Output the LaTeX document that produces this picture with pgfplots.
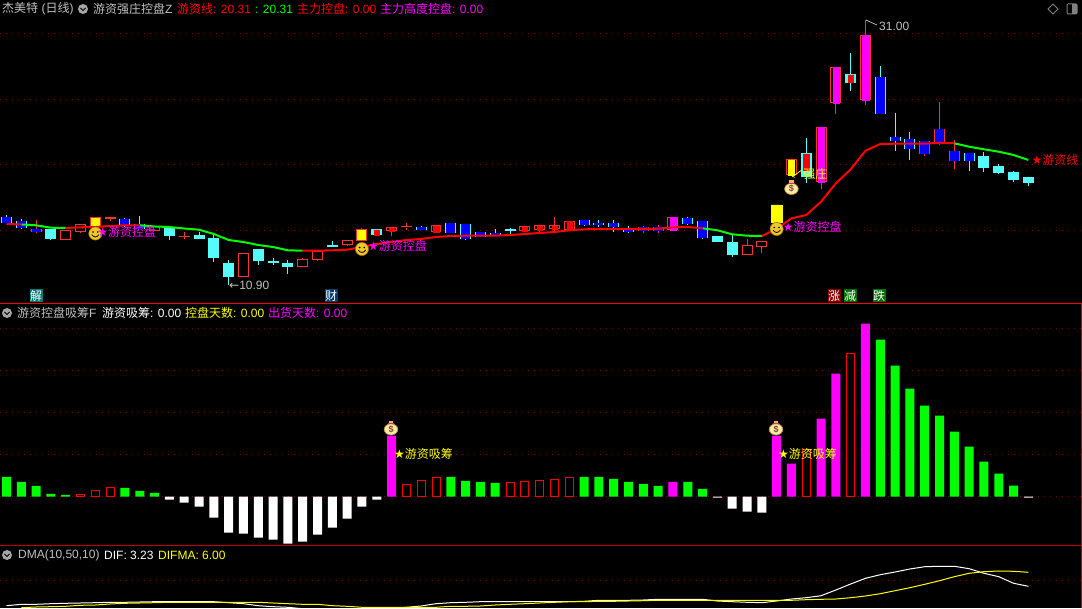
\documentclass[border=0pt]{standalone}
\usepackage{fontspec}
\setmainfont{Liberation Sans}
\newfontfamily\cjk{Noto Sans CJK SC}
\newfontfamily\sym{DejaVu Sans}
\usepackage{pgfplots}
\pgfplotsset{compat=1.18}
\usepgfplotslibrary{statistics}

\definecolor{magenta}{RGB}{255,0,255}
\definecolor{yellow}{RGB}{255,255,0}
\definecolor{tdxred}{HTML}{FF3232}
\definecolor{tdxcyan}{HTML}{54FCFC}
\definecolor{tdxgreen}{HTML}{00FF00}
\definecolor{tdxgrid}{HTML}{800000}
\definecolor{tdxgrey}{HTML}{C0C0C0}
\definecolor{sepred}{HTML}{C00000}
\definecolor{smilefill}{HTML}{F0C828}
\definecolor{smileedge}{HTML}{966E0A}
\definecolor{bagfill}{HTML}{FAEBAA}
\definecolor{bagedge}{HTML}{BE8C3C}
\definecolor{bagneck}{HTML}{EBBE50}
\definecolor{bagtie}{HTML}{DC2878}
\definecolor{bagtext}{HTML}{824628}
\definecolor{tagteal}{HTML}{007878}
\definecolor{tagblue}{HTML}{003C6E}
\definecolor{tagred}{HTML}{820000}
\definecolor{taggreen}{HTML}{006E00}

% panel 1 and 3: y is the pixel row; x is the bar number
\pgfplotsset{
  panel/.style={
    scale only axis, width=1082pt,
    xmin=-0.4389, xmax=72.62,
    xtick=\empty, yticklabels={}, major tick length=0pt,
    ymajorgrids, axis line style={draw=none},
    grid style={tdxgrid, line width=0.8pt, dash pattern=on 1pt off 5pt},
    boxplot/draw direction=y,
    clip=true,
  },
  hist/.style={ybar, bar width=9pt, bar shift=0pt, draw=none, forget plot},
}
\tikzset{note/.style={inner sep=0pt, font=\fontsize{12}{12}\selectfont\cjk}}

% one candle: edge, fill, bar, high, top, bottom, low
\newcommand\cndl[7]{\addplot[forget plot, draw=#1, fill=#2, line width=1pt,
  boxplot prepared={draw position=#3, lower whisker=#4, lower quartile=#5,
    median=#5, upper quartile=#6, upper whisker=#7, box extend=0.675, whisker extend=0}]
  coordinates {};}
% colour painted inside a candle body: colour, extend, bar, top, bottom
\newcommand\cbody[5]{\addplot[forget plot, draw=#1, fill=#1, line width=0.2pt,
  boxplot prepared={draw position=#3, lower whisker=#4, lower quartile=#4,
    median=#4, upper quartile=#5, upper whisker=#5, box extend=#2, whisker extend=0}]
  coordinates {};}
% same, stroked too, so that it hides the top and bottom edge of the candle
\newcommand\cblue[3]{\addplot[forget plot, draw=blue, fill=blue, line width=1pt,
  boxplot prepared={draw position=#1, lower whisker=#2, lower quartile=#2,
    median=#2, upper quartile=#3, upper whisker=#3, box extend=0.54, whisker extend=0}]
  coordinates {};}
\newcommand\hollow[5]{\cndl{tdxred}{black}{#1}{#2}{#3}{#4}{#5}}
\newcommand\fallc[5]{\cndl{tdxcyan}{tdxcyan}{#1}{#2}{#3}{#4}{#5}}
\newcommand\blueC[5]{\cndl{tdxcyan}{blue}{#1}{#2}{#3}{#4}{#5}\cblue{#1}{#3}{#4}}
\newcommand\blueR[5]{\cndl{tdxred}{blue}{#1}{#2}{#3}{#4}{#5}\cblue{#1}{#3}{#4}}
\newcommand\magc[5]{\cndl{tdxred}{black}{#1}{#2}{#3}{#4}{#5}\cbody{magenta}{0.42}{#1}{#3}{#4}}
\newcommand\redin[5]{\cndl{tdxred}{black}{#1}{#2}{#3}{#4}{#5}\cbody{red}{0.36}{#1}{#3}{#4}}

\newcommand\lab[4]{\node[anchor=west, inner sep=0pt, text=#1,
  font=\fontsize{12}{12}\selectfont] at (#2pt,{(608-#3)*1pt}) {#4};}
\newcommand\flag[4]{\node[fill=#1, text=white, minimum size=13pt, inner sep=0pt,
  font=\fontsize{12}{12}\selectfont\cjk] at (#2pt,{(608-#3)*1pt}) {#4};}
\newcommand\chev[2]{\fill[gray!70] (#1pt,{(608-#2)*1pt}) circle (5pt);
  \draw[black, line width=1pt] ({(#1-2.5)*1pt},{(608-#2+1)*1pt}) -- (#1pt,{(608-#2-1.5)*1pt}) -- ({(#1+2.5)*1pt},{(608-#2+1)*1pt});}

\newsavebox\smilebox
\sbox\smilebox{\tikz{
  \filldraw[fill=smilefill, draw=smileedge, line width=0.6pt] (0,0) circle (6.6pt);
  \fill[black] (-2.3pt,1.5pt) circle (0.9pt) (2.3pt,1.5pt) circle (0.9pt);
  \draw[black, line width=0.8pt] (-3.6pt,-1.2pt) .. controls (-1.5pt,-4.2pt) and (1.5pt,-4.2pt) .. (3.6pt,-1.2pt);
}}
\newsavebox\bagbox
\sbox\bagbox{\tikz{
  \filldraw[fill=bagfill, draw=bagedge, line width=0.7pt] (0,-1.4pt) ellipse (6.8pt and 5.6pt);
  \fill[bagneck] (-2.4pt,3.6pt) rectangle (2.4pt,7.4pt);
  \draw[bagtie, line width=0.9pt] (-2.8pt,4.3pt) -- (2.8pt,4.3pt);
  \node[inner sep=0pt, text=bagtext, font=\fontsize{9}{9}\selectfont\bfseries] at (0,-1.4pt) {\$};
}}

\begin{document}
\begin{tikzpicture}[x=1pt,y=1pt]
\useasboundingbox (0,0) rectangle (1082pt,608pt);
\fill[black] (0,0) rectangle (1082pt,608pt);

%%% price panel
\begin{axis}[panel, at={(0pt,304pt)}, height=304pt, ymin=0, ymax=304, y dir=reverse,
  ytick={33.3,99.3,164.3,230.3}, clip=false]
\blueC{0}{215}{217.3}{222.3}{223}
\blueC{1}{219}{221.3}{227.7}{228}
\blueR{2}{220}{230}{231.3}{232.7}
\fallc{3}{229}{230}{238.7}{239}
\hollow{4}{230.3}{230.3}{239.3}{239.3}
\hollow{5}{224.3}{224.3}{231.7}{232.7}
\cndl{tdxred}{yellow}{6}{218}{218}{226.7}{226.7}
\cndl{tdxred}{red}{7}{217}{217.3}{219}{221}
\blueC{8}{218}{219.3}{225}{226.7}
\blueC{9}{215.7}{225}{228.5}{229}
\hollow{10}{226.7}{226.7}{230.7}{230.7}
\fallc{11}{227}{228.3}{236}{240}
\hollow{12}{232.3}{236.3}{237}{238.7}
\fallc{13}{231.7}{236}{239}{239}
\fallc{14}{235.3}{239}{257.7}{261.7}
\fallc{15}{260}{263.3}{276.7}{285}
\hollow{16}{253.3}{253.3}{276.7}{276.7}
\fallc{17}{250}{250}{260.7}{265}
\fallc{18}{257.7}{262}{263}{265}
\fallc{19}{260}{263.3}{267}{274}
\hollow{20}{258}{259.3}{266.7}{266.7}
\hollow{21}{251.7}{251.7}{259.7}{261}
\fallc{22}{241}{246}{247}{247}
\hollow{23}{240.3}{240.3}{245}{246}
\cndl{tdxred}{yellow}{24}{228}{230}{240.7}{240.7}
\fallc{25}{230}{230}{234.7}{236}\cbody{red}{0.36}{25}{230}{234.7}
\redin{26}{227}{228}{231}{236}
\hollow{27}{223}{226.7}{227}{230}
\blueC{28}{226}{227.7}{229.3}{230}
\redin{29}{226}{226}{231.7}{231.7}
\blueC{30}{224}{224}{232.7}{232.7}
\blueC{31}{225}{225}{238.7}{240}
\blueC{32}{232}{233}{237}{237}
\blueC{33}{229}{234}{235.3}{235.3}
\fallc{34}{228}{230}{230.6}{234}
\redin{35}{227}{227}{231}{232}
\redin{36}{226}{226}{230}{232.3}
\redin{37}{217.3}{226}{229}{230.7}
\redin{38}{221.3}{221.3}{229.3}{229.3}
\blueC{39}{220}{221}{225}{226}
\blueC{40}{220}{224}{225}{227.3}
\blueC{41}{220}{223.7}{227}{232}
\blueC{42}{226}{229}{231.3}{232.7}
\blueR{43}{226}{228}{231}{232.7}
\blueR{44}{225}{228}{231}{233.3}
\magc{45}{217.3}{217.3}{230}{230}
\blueC{46}{217}{219}{223.7}{225}
\blueC{47}{221}{222}{237.3}{239}
\fallc{48}{236}{237}{241.7}{241.7}
\fallc{49}{234.3}{243}{255}{257}
\hollow{50}{239}{245.3}{254.7}{254.7}
\hollow{51}{242}{242}{246.7}{252.7}
\cbody{yellow}{0.72}{52}{205}{221.7}
\hollow{53}{160}{160}{174.7}{174.7}\cbody{yellow}{0.42}{53}{160}{174.7}
\fallc{54}{138.3}{154}{177}{182.7}\cbody{red}{0.36}{54}{154}{170}
\magc{55}{127.3}{127.3}{181.7}{188.7}
\magc{56}{67.3}{67.3}{102.7}{113.7}
\fallc{57}{53.3}{75}{82.3}{90.7}\cbody{red}{0.36}{57}{75}{82.3}
\magc{58}{20}{35.3}{99.7}{105}
\blueC{59}{66}{78}{113.7}{113.7}
\blueC{60}{113.3}{138}{141}{150.7}
\blueC{61}{132}{139.3}{149}{160}
\blueR{62}{142}{142}{153.7}{156}
\blueR{63}{102}{130}{143.7}{145}
\blueR{64}{140}{152}{161}{169}
\blueC{65}{154}{154}{161}{171}
\fallc{66}{152.3}{157}{168}{172}
\fallc{67}{164}{167}{173}{174}
\fallc{68}{171}{173}{180}{182}
\fallc{69}{178}{178}{183}{186}

% hot-money line, red while rising and green while falling
\addplot[tdxgreen, line width=2pt, forget plot] coordinates {(1,224.5)(2,225.3)(3,227.7)(4,228)};
\addplot[tdxgreen, line width=2pt, forget plot] coordinates {(9,225.3)(10,226.5)(11,227)(12,228.5)(13,229.7)(14,234)(15,240)(16,242)(17,245)(18,247)(19,250.3)(20,250.7)};
\addplot[tdxgreen, line width=2pt, forget plot] coordinates {(47,228.3)(48,230.3)(49,234.3)(50,235.7)(51,236)};
\addplot[tdxgreen, line width=2pt, forget plot] coordinates {(64,143.3)(65,146.7)(66,149.3)(67,151.7)(68,155)(69,160)};
\addplot[red, line width=2pt, forget plot] coordinates {(0,224)(1,224.5)};
\addplot[red, line width=2pt, forget plot] coordinates {(4,228)(5,227.3)(6,227)(7,226)(8,225.3)(9,225.3)};
\addplot[red, line width=2pt, forget plot] coordinates {(20,250.7)(21,250.7)(22,250.3)(23,249.7)(24,247)(25,244)(26,242)(27,240)(28,239)(29,237)(30,236)(31,235.7)(32,235.7)(33,235.7)(34,235)(35,234)(36,233)(37,232)(38,230.3)(39,229.3)(40,229)(41,229)(42,229)(43,229)(44,228.7)(45,227.3)(46,227)(47,228.3)};
\addplot[red, line width=2pt, forget plot] coordinates {(51,236)(52,229)(53,218.3)(54,215)(55,201.7)(56,183.3)(57,169.3)(58,150.7)(59,144)(60,143.7)(61,143.7)(62,143.7)(63,142.7)(64,143.3)};

\node[inner sep=0pt] at (axis cs:6,233.5) {\usebox\smilebox};
\node[inner sep=0pt] at (axis cs:24,249) {\usebox\smilebox};
\node[inner sep=0pt] at (axis cs:52,229) {\usebox\smilebox};
\node[inner sep=0pt] at (axis cs:53,187.5) {\usebox\bagbox};

\node[note, text=magenta, anchor=west] at (axis cs:6.13,232) {{\sym ★}游资控盘};
\node[note, text=magenta, anchor=west] at (axis cs:24.4,246) {{\sym ★}游资控盘};
\node[note, text=magenta, anchor=west] at (axis cs:52.4,226.5) {{\sym ★}游资控盘};
\node[note, text=red, anchor=west] at (axis cs:69.2,160) {{\sym ★}游资线};
\node[note, text=yellow, anchor=west] at (axis cs:53.8,174) {强庄};
\draw[yellow, line width=0.7pt, ->] (axis cs:53.7,170) -- (axis cs:53.05,177);
\end{axis}

%%% accumulation panel: bar heights in pixels above the zero line
\begin{axis}[panel, at={(0pt,62pt)}, height=242pt, ymin=-49.3, ymax=192.7,
  ytick={0,42,84,126,168}]
\addplot[hist, fill=tdxgreen] coordinates {(0,19.7)(1,14.7)(2,10.7)(3,2.7)(4,1.7)(8,8.7)(9,5.7)(10,3.7)
  (30,19.7)(31,15.7)(32,14.7)(33,13.7)(39,19.7)(40,19.7)(41,17.7)(42,14.7)(43,12.7)(44,10.7)(46,14.7)(47,7.7)
  (59,157)(60,131)(61,108)(62,91)(63,81)(64,65)(65,50)(66,35)(67,23)(68,11)};
\addplot[hist, fill=white] coordinates {(11,-3)(12,-6)(13,-10)(14,-21)(15,-36)(16,-37)(17,-41)(18,-43)(19,-47)(20,-45)
  (21,-38)(22,-31)(23,-22)(24,-10)(25,-3)(48,-1)(49,-12)(50,-15)(51,-16)(69,-1)};
\addplot[hist, fill=magenta] coordinates {(26,61)(45,14.7)(52,61)(53,33)(55,78)(56,123)(58,173)};
\addplot[ybar, bar width=8pt, bar shift=0pt, draw=red, fill=black, line width=1pt, forget plot]
  coordinates {(5,2)(6,6)(7,9.4)(27,12)(28,16)(29,19)(34,14)(35,15)(36,16.2)(37,17.2)(38,19)(54,47)(57,143)};
\end{axis}

%%% DMA panel
\begin{axis}[panel, at={(0pt,0pt)}, height=62pt, ymin=546, ymax=608, y dir=reverse, ytick={580.3}]
\addplot[white, line width=1pt, forget plot] coordinates {(0,605.7)(1,604.3)(2,604.3)(3,603.7)(4,603.3)(5,603)(6,602.7)(7,602.3)(8,602.3)(9,602)(10,601.7)(11,601.7)(12,601.7)(13,601.7)(14,601.7)(15,602.7)(16,603.7)(17,605.7)(18,606.7)(19,607.3)(20,608.7)(21,609.3)(22,609)(23,609.3)(24,609.3)(25,609)(26,608.3)(27,607.3)(28,606)(29,603.7)(30,602.7)(31,602.3)(32,601.7)(33,601.7)(34,601.7)(35,601.7)(36,601.7)(37,601.7)(38,601.7)(39,601.3)(40,600.3)(41,600.3)(42,600.3)(43,600)(44,599.3)(45,599.3)(46,599.3)(47,599.3)(48,601)(49,601.7)(50,602.3)(51,602.7)(52,601)(53,599)(54,597.7)(55,595.7)(56,590)(57,584)(58,578.3)(59,574.7)(60,572)(61,569)(62,566.7)(63,566.3)(64,566.3)(65,568.7)(66,573.3)(67,576.7)(68,583.3)(69,586.3)};
\addplot[yellow, line width=1pt, forget plot] coordinates {(1,607.7)(2,607)(3,606.7)(4,606.3)(5,605.3)(6,605)(7,604)(8,603.3)(9,603)(10,602.7)(11,602.3)(12,602.3)(13,602.3)(14,602.3)(15,602.3)(16,602.3)(17,602.3)(18,603)(19,603.7)(20,604.3)(21,604.3)(22,605.7)(23,606.3)(24,607.3)(25,607.3)(26,607.3)(27,607.3)(28,607.3)(29,607.3)(30,606.3)(31,606.3)(32,606)(33,605)(34,604.3)(35,603.7)(36,603)(37,602.3)(38,601.7)(39,601.7)(40,601.3)(41,601.3)(42,601)(43,600.7)(44,600.3)(45,600.3)(46,600.3)(47,600.3)(48,600.3)(49,600.3)(50,600.3)(51,600.3)(52,600.3)(53,600.3)(54,599.7)(55,599.3)(56,599)(57,597.7)(58,596)(59,593.7)(60,590.7)(61,587.7)(62,584.3)(63,580.7)(64,576.7)(65,573.3)(66,571.7)(67,571)(68,571.3)(69,572.3)};
\end{axis}

% panel rules
\draw[red, line width=1pt] (0,304pt) -- (1082pt,304pt);
\draw[sepred, line width=1pt] (0,62pt) -- (1082pt,62pt);
\draw[sepred, line width=1pt] (1081.5pt,0) -- (1081.5pt,304pt);

% money bags and labels of the lower panel (pixel places)
\node[inner sep=0pt] at (391pt,180pt) {\usebox\bagbox};
\node[inner sep=0pt] at (776pt,180pt) {\usebox\bagbox};
\lab{yellow}{394}{454}{{\sym ★}{\cjk 游资吸筹}}
\lab{yellow}{778}{454}{{\sym ★}{\cjk 游资吸筹}}

% extreme prices
\lab{tdxgrey}{229}{285}{{\sym ←}10.90}
\lab{tdxgrey}{879}{26}{31.00}
\draw[tdxgrey, line width=0.7pt] (866pt,{(608-20)*1pt}) -- (868pt,{(608-21)*1pt}) -- (877pt,{(608-25)*1pt});

% tags above the first rule
\flag{tagteal}{36}{296}{解}
\flag{tagblue}{331}{296}{财}
\flag{tagred}{834}{296}{涨}
\flag{taggreen}{850}{296}{减}
\flag{taggreen}{879}{296}{跌}

% header lines
\lab{tdxgrey}{2}{9}{{\cjk 杰美特} ({\cjk 日线})}
\chev{83}{9}
\lab{tdxgrey}{93}{9}{{\cjk 游资强庄控盘}Z}
\lab{red}{177}{9}{{\cjk 游资线}: 20.31}
\lab{tdxgreen}{255}{9}{: 20.31}
\lab{red}{297}{9}{{\cjk 主力控盘}: 0.00}
\lab{magenta}{380}{9}{{\cjk 主力高度控盘}: 0.00}
\draw[gray, line width=0.8pt] (1053pt,{(608-4)*1pt}) -- (1058pt,{(608-9)*1pt}) -- (1053pt,{(608-14)*1pt}) -- (1048pt,{(608-9)*1pt}) -- cycle;
\draw[gray, line width=1pt, rounded corners=1pt] (1067pt,{(608-4)*1pt}) rectangle (1077pt,{(608-14)*1pt});
\fill[gray] (1072pt,{(608-4)*1pt}) rectangle (1077pt,{(608-14)*1pt});

\chev{7}{313}
\lab{tdxgrey}{17}{313}{{\cjk 游资控盘吸筹}F}
\lab{white}{102}{313}{{\cjk 游资吸筹}: 0.00}
\lab{yellow}{185}{313}{{\cjk 控盘天数}: 0.00}
\lab{magenta}{268}{313}{{\cjk 出货天数}: 0.00}

\chev{7}{555}
\lab{tdxgrey}{18}{555}{DMA(10,50,10)}
\lab{white}{104}{555}{DIF: 3.23}
\lab{yellow}{158}{555}{DIFMA: 6.00}
\end{tikzpicture}
\end{document}
